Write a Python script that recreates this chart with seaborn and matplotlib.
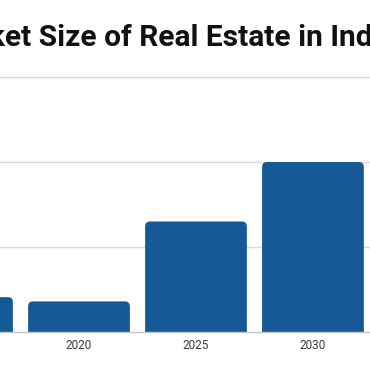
import matplotlib
matplotlib.use("Agg")
import matplotlib.pyplot as plt
from matplotlib.patches import FancyBboxPatch
import pandas as pd
import seaborn as sns

# market size, USD billion (the first bar is only partly visible)
years = ["2019", "2020", "2025", "2030"]
market_size = [205, 180, 650, 1000]
grid_values = [500, 1000, 1500]
title = "Market Size of Real Estate in India"

sns.set_theme(style="white")
plt.rcParams["font.family"] = ["Roboto", "DejaVu Sans"]

df = pd.DataFrame({"year": years, "size": market_size})

W = 370.0
fig = plt.figure(figsize=(3.7, 3.7), dpi=100)
# the picture is a crop, so the axes run past the figure edges
ax = fig.add_axes([-100 / W, 38 / W, 500 / W, 272 / W])
sns.barplot(data=df, x="year", y="size", color="#155a96", width=0.87,
            saturation=1, ax=ax)

ax.set_xlim(-0.53, 3.744)
ax.set_ylim(0, 1600)

# swap seaborn's bars for ones with rounded top corners
px_x = 500 / (3.744 + 0.53)
px_y = 272 / 1600
r = 5 / px_x
aspect = (1 / px_y) / (1 / px_x)
for p in list(ax.patches):
    x, w, h = p.get_x(), p.get_width(), p.get_height()
    fc = p.get_facecolor()
    p.remove()
    bar = FancyBboxPatch((x, -60), w, h + 60,
                         boxstyle=f"round,pad=0,rounding_size={r}",
                         mutation_aspect=aspect, fc=fc, ec="none", zorder=2)
    bar.set_clip_path(ax.patch)
    ax.add_patch(bar)

ax.set_yticks(grid_values)
ax.yaxis.grid(True, color="#d9d9d9", lw=1)
ax.set_axisbelow(True)
for s in ["left", "right", "top"]:
    ax.spines[s].set_visible(False)
ax.spines["bottom"].set_color("#c4c4c4")
ax.spines["bottom"].set_linewidth(1)
ax.set_xlabel("")
ax.set_ylabel("")
ax.set_yticklabels([])
ax.tick_params(axis="both", length=0)
ax.tick_params(axis="x", labelsize=8.5, labelcolor="#3a3a3a", pad=5)
# the first year's label falls outside the crop
ax.get_xticklabels()[0].set_visible(False)

# title: only its middle part is inside the crop
fig.text(-64.5 / W, 1 - 46 / W, title, fontsize=21.5, fontweight="bold",
         color="#111111", ha="left", va="baseline")

fig.savefig("out.png", dpi=100)
